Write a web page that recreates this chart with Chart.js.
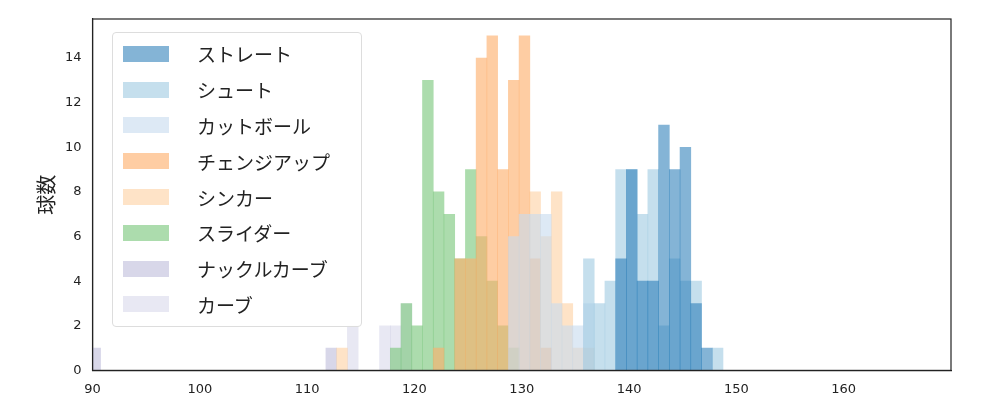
<!DOCTYPE html>
<html><head><meta charset="utf-8">
<script src="https://cdn.jsdelivr.net/npm/chart.js@4"></script>
<style>
body{margin:0;background:#fff;font-family:"Noto Sans CJK JP",sans-serif}
#wrap{position:relative;width:1000px;height:400px}
#legend{position:absolute;left:112px;top:32px;width:248px;border:1px solid #ddd;border-radius:4px;background:rgba(255,255,255,0.85);padding:3px 0 4px 0}
.row{display:flex;align-items:center;height:35.8px;font-size:19px;color:#222}
.sw{width:46px;height:16px;margin:0 28px 0 10px}
</style></head><body>
<div id="wrap"><canvas id="c" width="1000" height="400"></canvas><div id="legend"></div></div>
<script>
// bin left edges (km/h) and counts per pitch type
const names = ["ストレート","シュート","カットボール","チェンジアップ","シンカー","スライダー","ナックルカーブ","カーブ"];
const colors = ["rgba(31,119,180,0.55)","rgba(158,202,225,0.6)","rgba(198,219,239,0.6)","rgba(253,174,107,0.62)",
  "rgba(253,208,162,0.6)","rgba(116,196,118,0.6)","rgba(158,154,200,0.4)","rgba(188,189,220,0.35)"];
const straightBins = [138.75,139.75,140.75,141.75,142.75,143.75,144.75,145.75,146.75];
const straightCounts = [5,9,4,4,11,9,10,3,1];
const shootBins = [135.75,136.75,137.75,138.75,139.75,140.75,141.75,142.75,143.75,144.75,145.75,147.75];
const shootCounts = [5,3,4,9,9,7,9,2,5,4,4,1];
const cutterBins = [128.75,129.75,130.75,131.75,132.75,133.75,134.75,135.75];
const cutterCounts = [6,7,7,7,3,2,2,3];
const changeupBins = [121.75,123.75,124.75,125.75,126.75,127.75,128.75,129.75,130.75,131.75];
const changeupCounts = [1,5,5,14,15,9,13,15,5,1];
const sinkerBins = [112.75,130.75,131.75,132.75,133.75,134.75,135.75];
const sinkerCounts = [1,8,6,8,3,1,1];
const sliderBins = [117.75,118.75,119.75,120.75,121.75,122.75,123.75,124.75,125.75,126.75,127.75,128.75];
const sliderCounts = [1,3,2,13,8,7,5,9,6,4,2,1];
const knuckleBins = [89.75,111.75];
const knuckleCounts = [1,1];
const curveBins = [113.75,116.75,117.75,118.75];
const curveCounts = [2,2,2,3];
const xTicks = [90,100,110,120,130,140,150,160];

const bins = [straightBins,shootBins,cutterBins,changeupBins,sinkerBins,sliderBins,knuckleBins,curveBins];
const counts = [straightCounts,shootCounts,cutterCounts,changeupCounts,sinkerCounts,sliderCounts,knuckleCounts,curveCounts];

const datasets = names.map((n,i)=>({
  label:n,
  data:bins[i].map((b,j)=>({x:b+0.5,y:counts[i][j]})),
  backgroundColor:colors[i],
  grouped:false, barPercentage:1, categoryPercentage:1, borderWidth:0
}));

const lg=document.getElementById('legend');
names.forEach((n,i)=>{lg.insertAdjacentHTML('beforeend',`<div class="row"><div class="sw" style="background:${colors[i]}"></div>${n}</div>`)});

new Chart(document.getElementById('c'),{
  type:'bar',
  data:{datasets},
  options:{
    responsive:false, animation:false,
    layout:{padding:{left:30,right:49,top:19,bottom:0}},
    plugins:{legend:{display:false},tooltip:{enabled:false}},
    scales:{
      x:{type:'linear',min:90,max:170,offset:false,
        afterBuildTicks:s=>{s.ticks=xTicks.map(v=>({value:v}))},
        grid:{display:false,offset:false},border:{color:'#222',width:1.2},
        ticks:{color:'#222',font:{size:13,family:'DejaVu Sans'}}},
      y:{min:0,max:15.75,
        afterBuildTicks:s=>{s.ticks=[0,2,4,6,8,10,12,14].map(v=>({value:v}))},
        grid:{display:false},border:{color:'#222',width:1.2},
        ticks:{color:'#222',font:{size:13,family:'DejaVu Sans'}},
        title:{display:true,text:'球数',color:'#222',font:{size:20,family:'Noto Sans CJK JP'}}}
    }
  },
  plugins:[{id:'frame',afterDraw(c){const a=c.chartArea,x=c.ctx;x.save();x.strokeStyle='#222';x.lineWidth=1.2;x.strokeRect(a.left,a.top,a.right-a.left,a.bottom-a.top);x.restore();}}]
});
</script></body></html>
